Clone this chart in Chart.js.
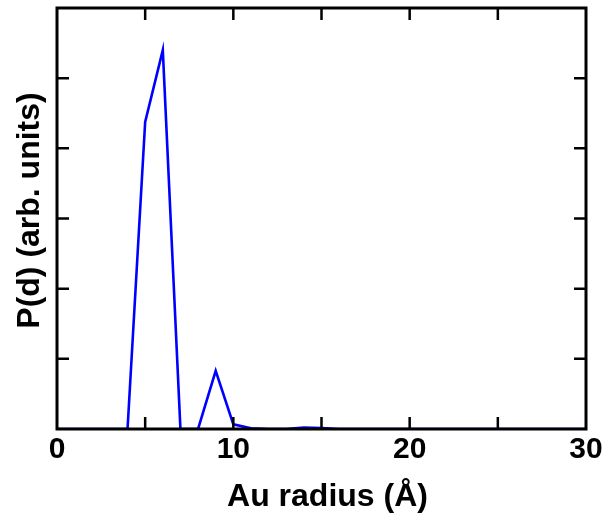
<!DOCTYPE html>
<html>
<head>
<meta charset="utf-8">
<script src="https://cdn.jsdelivr.net/npm/chart.js@4/dist/chart.umd.min.js"></script>
<style>
    html, body { margin: 0; padding: 0; background: #fff; }
    #wrap { width: 606px; height: 519px; }
</style>
</head>
<body>
<div id="wrap"><canvas id="chart" width="606" height="519"></canvas></div>
<script>
// values
const radius = [0, 1, 2, 3, 4, 5, 6, 7, 8, 9, 10, 11, 12, 13, 14, 15, 16, 17, 18, 19, 20,
    21, 22, 23, 24, 25, 26, 27, 28, 29, 30];
const probability = [0, 0, 0, 0, 0, 4.375, 5.40, 0, 0, 0.83, 0.067, 0.01, 0, 0, 0.02, 0.015, 0, 0, 0, 0, 0,
    0, 0, 0, 0, 0, 0, 0, 0, 0, 0];
const xTicks = [0, 10, 20, 30];
const xMinorTicks = [5, 15, 25];
const yTicks = [1, 2, 3, 4, 5];

const xTitle = 'Au radius (Å)';
const yTitle = 'P(d) (arb. units)';

const fontFamily = '"Liberation Sans", Arial, Helvetica, sans-serif';

// titles in the original sit a little off-centre
const titleShift = { x: [6, 0], y: [0, -8] };

const titleShiftPlugin = {
    id: 'titleShift',
    beforeDraw: function (chart) {
        Object.keys(titleShift).forEach(id => {
            const scale = chart.scales[id];
            if (!scale || scale._shifted) return;
            const orig = scale.drawTitle;
            scale.drawTitle = function () {
                const ctx = this.ctx;
                ctx.save();
                ctx.translate(titleShift[id][0], titleShift[id][1]);
                orig.apply(this, arguments);
                ctx.restore();
            };
            scale._shifted = true;
        });
    }
};

// frame + inward ticks on all four sides
const framePlugin = {
    id: 'frame',
    afterDatasetsDraw: function (chart) {
        const ctx = chart.ctx;
        const a = chart.chartArea;
        const xs = chart.scales.x;
        const ys = chart.scales.y;
        const len = 12;
        ctx.save();
        ctx.strokeStyle = '#000';
        ctx.lineWidth = 2.5;
        ctx.beginPath();
        xTicks.concat(xMinorTicks).forEach(v => {
            if (v <= xs.min || v >= xs.max) return;
            const px = xs.getPixelForValue(v);
            ctx.moveTo(px, a.bottom);
            ctx.lineTo(px, a.bottom - len);
            ctx.moveTo(px, a.top);
            ctx.lineTo(px, a.top + len);
        });
        yTicks.forEach(v => {
            const py = ys.getPixelForValue(v);
            ctx.moveTo(a.left, py);
            ctx.lineTo(a.left + len, py);
            ctx.moveTo(a.right, py);
            ctx.lineTo(a.right - len, py);
        });
        ctx.stroke();
        ctx.lineWidth = 3;
        ctx.strokeRect(a.left, a.top, a.right - a.left, a.bottom - a.top);
        ctx.restore();
    }
};

new Chart(document.getElementById('chart'), {
    type: 'line',
    data: {
        datasets: [{
            data: radius.map((r, i) => ({ x: r, y: probability[i] })),
            borderColor: '#0000ff',
            borderWidth: 2.6,
            pointRadius: 0,
            tension: 0,
            fill: false
        }]
    },
    options: {
        responsive: false,
        animation: false,
        layout: { padding: { left: 0, right: 20, top: 8, bottom: 0 } },
        plugins: {
            legend: { display: false },
            tooltip: { enabled: false }
        },
        scales: {
            x: {
                type: 'linear',
                min: 0,
                max: 30,
                grid: { display: false, drawTicks: false },
                border: { display: false },
                afterBuildTicks: function (scale) {
                    scale.ticks = xTicks.map(v => ({ value: v }));
                },
                afterFit: function (scale) { scale.height = 90; },
                ticks: {
                    color: '#000',
                    padding: 3,
                    maxRotation: 0,
                    font: { family: fontFamily, size: 30, weight: 'bold' }
                },
                title: {
                    display: true,
                    text: xTitle,
                    color: '#000',
                    padding: { top: 0, bottom: 3 },
                    font: { family: fontFamily, size: 32, weight: 'bold' }
                }
            },
            y: {
                min: 0,
                max: 6,
                grid: { display: false, drawTicks: false },
                border: { display: false },
                afterFit: function (scale) { scale.width = 57; },
                ticks: { display: false, stepSize: 1 },
                title: {
                    display: true,
                    text: yTitle,
                    color: '#000',
                    padding: { top: 11, bottom: 0 },
                    font: { family: fontFamily, size: 32, weight: 'bold' }
                }
            }
        }
    },
    plugins: [titleShiftPlugin, framePlugin]
});
</script>
</body>
</html>
